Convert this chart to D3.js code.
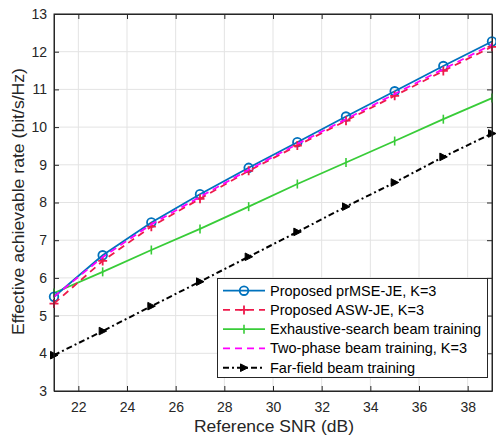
<!DOCTYPE html>
<html><head><meta charset="utf-8">
<script src="https://cdn.jsdelivr.net/npm/d3@7"></script>
<style>body{margin:0;background:#fff}svg{display:block}text{font-family:"Liberation Sans",Arial,Helvetica,sans-serif}</style>
</head><body><svg id="c" width="496" height="438"></svg>
<script>
const snr = [21,23,25,27,29,31,33,35,37,39];
const prMSE = [5.5,6.6,7.47,8.22,8.92,9.6,10.28,10.95,11.62,12.27];
const aswJE = [5.32,6.45,7.36,8.1,8.84,9.51,10.17,10.83,11.49,12.13];
const exhaustive = [5.6,6.16,6.74,7.3,7.89,8.49,9.06,9.63,10.21,10.77];
const twoPhase = [5.5,6.55,7.42,8.15,8.87,9.55,10.21,10.88,11.54,12.19];
const farField = [3.95,4.59,5.25,5.9,6.56,7.22,7.89,8.53,9.21,9.83];
const xTicks = [22,24,26,28,30,32,34,36,38];
const yTicks = [3,4,5,6,7,8,9,10,11,12,13];
const names = ["Proposed prMSE-JE, K=3","Proposed ASW-JE, K=3","Exhaustive-search beam training","Two-phase beam training, K=3","Far-field beam training"];

const svg = d3.select("#c");
const L=54,R=492,T=14,B=391;
const x = d3.scaleLinear().domain([21,39]).range([L,R]);
const y = d3.scaleLinear().domain([3,13]).range([B,T]);
const axisCol="#262626";

const g = svg.append("g");
g.selectAll(".gx").data(xTicks).join("line").attr("x1",d=>x(d)).attr("x2",d=>x(d)).attr("y1",T).attr("y2",B).attr("stroke","#e3e3e3").attr("stroke-width",1);
g.selectAll(".gy").data(yTicks).join("line").attr("y1",d=>y(d)).attr("y2",d=>y(d)).attr("x1",L).attr("x2",R).attr("stroke","#e3e3e3").attr("stroke-width",1);

const ax = svg.append("g").attr("transform",`translate(0,${B})`).call(d3.axisBottom(x).tickValues(xTicks).tickSize(-5).tickPadding(11).tickSizeOuter(0));
const ay = svg.append("g").attr("transform",`translate(${L},0)`).call(d3.axisLeft(y).tickValues(yTicks).tickSize(-5).tickPadding(7).tickSizeOuter(0));
const axT = svg.append("g").attr("transform",`translate(0,${T})`).call(d3.axisTop(x).tickValues(xTicks).tickSize(-5).tickFormat("").tickSizeOuter(0));
const ayR = svg.append("g").attr("transform",`translate(${R},0)`).call(d3.axisRight(y).tickValues(yTicks).tickSize(-5).tickFormat("").tickSizeOuter(0));
[ax,ay,axT,ayR].forEach(a=>{a.selectAll("path").attr("stroke",axisCol);a.selectAll("line").attr("stroke",axisCol);a.selectAll("text").attr("fill",axisCol).attr("font-size",14).attr("font-family",'"Liberation Sans",Arial,sans-serif');});

const series = [
 {v:prMSE,c:"#0072BD",dash:null,m:"o",w:1.8},
 {v:aswJE,c:"#EE1A4B",dash:"7,5",m:"+",w:1.8},
 {v:exhaustive,c:"#38CC38",dash:null,m:"|",w:1.8},
 {v:twoPhase,c:"#FF00FF",dash:"7,5",m:null,w:1.8},
 {v:farField,c:"#000000",dash:"6,3,2,3",m:">",w:2}
];
const line = d3.line().x((d,i)=>x(snr[i])).y(d=>y(d));
function marker(sel,m,c,px,py){
  if(m==="o") sel.append("circle").attr("cx",px).attr("cy",py).attr("r",4.3).attr("fill","none").attr("stroke",c).attr("stroke-width",1.8);
  else if(m==="+"){sel.append("path").attr("d",`M${px-4.5},${py}H${px+4.5}M${px},${py-4.5}V${py+4.5}`).attr("stroke",c).attr("stroke-width",1.8);}
  else if(m==="|"){sel.append("path").attr("d",`M${px},${py-4.5}V${py+4.5}`).attr("stroke",c).attr("stroke-width",1.6);}
  else if(m===">"){sel.append("path").attr("d",`M${px+4},${py}L${px-3.5},${py-3.8}L${px-3.5},${py+3.8}Z`).attr("fill",c).attr("stroke",c).attr("stroke-width",1);}
}
[4,2,0,1,3].forEach(k=>{
  const s=series[k];
  const gg=svg.append("g");
  gg.append("path").datum(s.v).attr("d",line).attr("fill","none").attr("stroke",s.c).attr("stroke-width",s.w).attr("stroke-dasharray",s.dash);
  if(s.m) s.v.forEach((d,i)=>marker(gg,s.m,s.c,x(snr[i]),y(d)));
});
svg.append("rect").attr("x",L).attr("y",T).attr("width",R-L).attr("height",B-T).attr("fill","none").attr("stroke",axisCol).attr("stroke-width",1);

const lg = svg.append("g");
lg.append("rect").attr("x",217.5).attr("y",278.5).attr("width",270).attr("height",99).attr("fill","#fff").attr("stroke",axisCol).attr("stroke-width",1);
names.forEach((n,i)=>{
  const s=series[i]; const yy=290.7+i*19.25;
  const row=lg.append("g");
  row.append("line").attr("x1",223).attr("x2",265).attr("y1",yy).attr("y2",yy).attr("stroke",s.c).attr("stroke-width",s.w).attr("stroke-dasharray",s.dash);
  if(s.m) marker(row,s.m,s.c,244,yy);
  row.append("text").attr("x",270).attr("y",yy+5).attr("font-size",14.5).attr("fill","#000").text(n);
});

svg.append("text").attr("x",274).attr("y",432).attr("text-anchor","middle").attr("font-size",17).attr("textLength",160).attr("lengthAdjust","spacingAndGlyphs").attr("fill",axisCol).text("Reference SNR (dB)");
svg.append("text").attr("transform",`translate(24,201.5) rotate(-90)`).attr("text-anchor","middle").attr("font-size",17).attr("textLength",267).attr("lengthAdjust","spacingAndGlyphs").attr("fill",axisCol).text("Effective achievable rate (bit/s/Hz)");
</script></body></html>
